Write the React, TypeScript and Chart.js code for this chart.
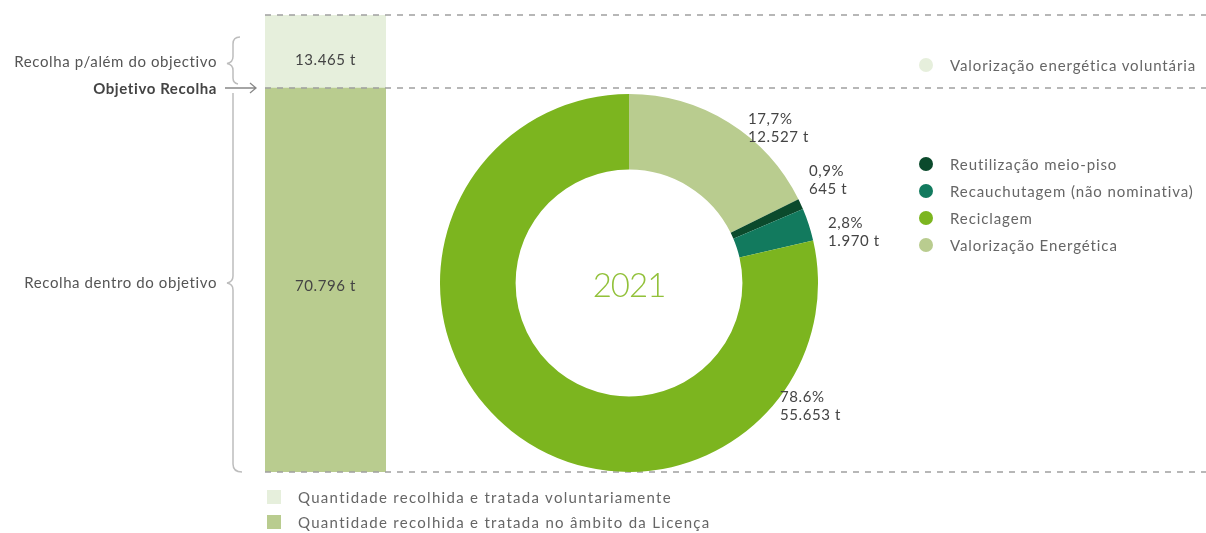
import React, { useEffect, useRef } from "react";
import { Chart, registerables } from "chart.js";
Chart.register(...registerables);

// ---- data ----
const barCategories = ["2021"];
const licencaValues = [70796];
const voluntarioValues = [13465];
const barSeriesLabels = [
  "Quantidade recolhida e tratada no âmbito da Licença",
  "Quantidade recolhida e tratada voluntariamente",
];
const doughnutLabels = [
  "Valorização Energética",
  "Reutilização meio-piso",
  "Recauchutagem (não nominativa)",
  "Reciclagem",
];
const doughnutValues = [12527, 645, 1970, 55653];
const doughnutPercents = ["17,7%", "0,9%", "2,8%", "78.6%"];
const doughnutColors = ["#b9cc8f", "#0b4a2c", "#127a5e", "#7cb51f"];
const legendOrder = [1, 2, 3, 0];
const centerLabel = "2021";
const extraLegend = "Valorização energética voluntária";
const leftLabels = ["Recolha p/além do objectivo", "Objetivo Recolha", "Recolha dentro do objetivo"];

const BAR_LIGHT = "#e6efdc";
const BAR_DARK = "#b9cc8f";
const TEXT = "#555";

const fmt = (n: number) => String(n).replace(/\B(?=(\d{3})+(?!\d))/g, ".") + " t";

// layout of the bar plot area
const PLOT_TOP = 15;
const PLOT_BOTTOM = 472;
const TOTAL = licencaValues[0] + voluntarioValues[0];
const OBJ_Y = Math.round(PLOT_TOP + (1 - licencaValues[0] / TOTAL) * (PLOT_BOTTOM - PLOT_TOP));

// positions of doughnut value labels (layout only)
const doughnutLabelPos = [
  { x: 748, y: 109 },
  { x: 809, y: 161 },
  { x: 828, y: 213 },
  { x: 780, y: 387 },
];

export default function App() {
  const barRef = useRef<HTMLCanvasElement>(null);
  const doRef = useRef<HTMLCanvasElement>(null);

  useEffect(() => {
    const guides = {
      id: "guides",
      afterDraw(chart: any) {
        const { ctx, chartArea } = chart;
        const y = chart.scales.y;
        const ys = [
          y.getPixelForValue(TOTAL),
          y.getPixelForValue(licencaValues[0]),
          y.getPixelForValue(0),
        ];
        ctx.save();
        ctx.strokeStyle = "#a0a0a0";
        ctx.lineWidth = 1.5;
        ctx.setLineDash([6, 6]);
        ys.forEach((py: number) => {
          ctx.beginPath();
          ctx.moveTo(chartArea.left, Math.round(py));
          ctx.lineTo(chart.width, Math.round(py));
          ctx.stroke();
        });
        ctx.restore();
      },
    };
    const bar = new Chart(barRef.current!, {
      type: "bar",
      data: {
        labels: barCategories,
        datasets: [
          {
            label: barSeriesLabels[0],
            data: licencaValues,
            backgroundColor: BAR_DARK,
            borderWidth: 0,
            barPercentage: 1,
            categoryPercentage: 1,
          },
          {
            label: barSeriesLabels[1],
            data: voluntarioValues,
            backgroundColor: BAR_LIGHT,
            borderWidth: 0,
            barPercentage: 1,
            categoryPercentage: 1,
          },
        ],
      },
      options: {
        responsive: false,
        animation: false,
        layout: { padding: { left: 265, right: 820, top: PLOT_TOP, bottom: 533 - PLOT_BOTTOM } },
        scales: {
          x: { stacked: true, display: false },
          y: { stacked: true, display: false, min: 0, max: TOTAL },
        },
        plugins: { legend: { display: false }, tooltip: { enabled: false } },
      },
      plugins: [guides],
    });

    const dough = new Chart(doRef.current!, {
      type: "doughnut",
      data: {
        labels: doughnutLabels,
        datasets: [
          {
            data: doughnutValues,
            backgroundColor: doughnutColors,
            borderWidth: 0,
          },
        ],
      },
      options: {
        responsive: false,
        animation: false,
        cutout: "60%",
        layout: { padding: 0 },
        plugins: { legend: { display: false }, tooltip: { enabled: false } },
      },
    });
    return () => {
      bar.destroy();
      dough.destroy();
    };
  }, []);

  const abs = (s: React.CSSProperties): React.CSSProperties => ({ position: "absolute", ...s });
  const txt: React.CSSProperties = {
    fontSize: 15,
    color: TEXT,
    whiteSpace: "nowrap",
    letterSpacing: 0.6,
    lineHeight: "18px",
  };
  const legTxt: React.CSSProperties = { ...txt, color: "#666", letterSpacing: 0.9 };
  const botTxt: React.CSSProperties = { ...txt, color: "#666", letterSpacing: 1.3 };

  return (
    <div
      style={{
        position: "fixed",
        left: 0,
        top: 0,
        width: 1206,
        height: 533,
        background: "#fff",
        fontFamily: "Lato, 'Noto Sans', sans-serif",
        overflow: "hidden",
      }}
    >
      <canvas ref={barRef} width={1206} height={533} style={abs({ left: 0, top: 0 })} />
      <canvas ref={doRef} width={378} height={378} style={abs({ left: 440, top: 94 })} />

      {/* braces and arrow */}
      <svg width={1206} height={533} style={abs({ left: 0, top: 0, pointerEvents: "none" })}>
        <path
          d={`M240 37 Q233 37 233 44 L233 ${(37 + OBJ_Y) / 2 - 6} Q233 ${(37 + OBJ_Y) / 2} 227 ${(37 + OBJ_Y) / 2 + 1} Q233 ${(37 + OBJ_Y) / 2 + 2} 233 ${(37 + OBJ_Y) / 2 + 8} L233 ${OBJ_Y - 10} Q233 ${OBJ_Y - 5} 238 ${OBJ_Y - 4}`}
          fill="none"
          stroke="#bdbdbd"
          strokeWidth={1.5}
        />
        <path
          d={`M233 ${OBJ_Y + 5} L233 276 Q233 282 227 283 Q233 284 233 290 L233 464 Q233 472 242 472`}
          fill="none"
          stroke="#bdbdbd"
          strokeWidth={1.5}
        />
        <path
          d={`M225 ${OBJ_Y} L256 ${OBJ_Y} M250 ${OBJ_Y - 5} L256 ${OBJ_Y} L250 ${OBJ_Y + 5}`}
          fill="none"
          stroke="#888"
          strokeWidth={1.3}
        />
      </svg>

      {/* left labels */}
      <div style={abs({ ...txt, left: 0, width: 217, top: 52, textAlign: "right" })}>{leftLabels[0]}</div>
      <div
        style={abs({ ...txt, left: 0, width: 217, top: OBJ_Y - 9, textAlign: "right", fontWeight: 700, color: "#444" })}
      >
        {leftLabels[1]}
      </div>
      <div style={abs({ ...txt, left: 0, width: 217, top: 273, textAlign: "right" })}>{leftLabels[2]}</div>

      {/* bar values */}
      <div style={abs({ ...txt, left: 265, width: 121, top: 50, textAlign: "center", color: "#444" })}>
        {fmt(voluntarioValues[0])}
      </div>
      <div style={abs({ ...txt, left: 265, width: 121, top: 276, textAlign: "center", color: "#444" })}>
        {fmt(licencaValues[0])}
      </div>

      {/* center label */}
      <div
        style={abs({
          left: 529,
          width: 200,
          top: 265,
          textAlign: "center",
          fontSize: 33,
          fontWeight: 300,
          color: "#92c13a",
          letterSpacing: -1,
          lineHeight: "38px",
        })}
      >
        {centerLabel}
      </div>

      {/* doughnut value labels */}
      {doughnutValues.map((v, i) => (
        <div key={i} style={abs({ ...txt, left: doughnutLabelPos[i].x, top: doughnutLabelPos[i].y, color: "#444" })}>
          {doughnutPercents[i]}
          <br />
          {fmt(v)}
        </div>
      ))}

      {/* right legend */}
      <div style={abs({ left: 919, top: 58, width: 14, height: 14, borderRadius: 7, background: BAR_LIGHT })} />
      <div style={abs({ ...legTxt, left: 950, top: 56 })}>{extraLegend}</div>
      {legendOrder.map((idx, k) => {
        const cy = [164, 191, 218, 245][k];
        return (
          <React.Fragment key={idx}>
            <div
              style={abs({
                left: 919,
                top: cy - 7,
                width: 14,
                height: 14,
                borderRadius: 7,
                background: doughnutColors[idx],
              })}
            />
            <div style={abs({ ...legTxt, left: 950, top: cy - 9 })}>{doughnutLabels[idx]}</div>
          </React.Fragment>
        );
      })}

      {/* bottom legend */}
      <div style={abs({ left: 267, top: 490, width: 14, height: 14, background: BAR_LIGHT })} />
      <div style={abs({ ...botTxt, left: 298, top: 488 })}>{barSeriesLabels[1]}</div>
      <div style={abs({ left: 267, top: 515, width: 14, height: 14, background: BAR_DARK })} />
      <div style={abs({ ...botTxt, left: 298, top: 513 })}>{barSeriesLabels[0]}</div>
    </div>
  );
}
